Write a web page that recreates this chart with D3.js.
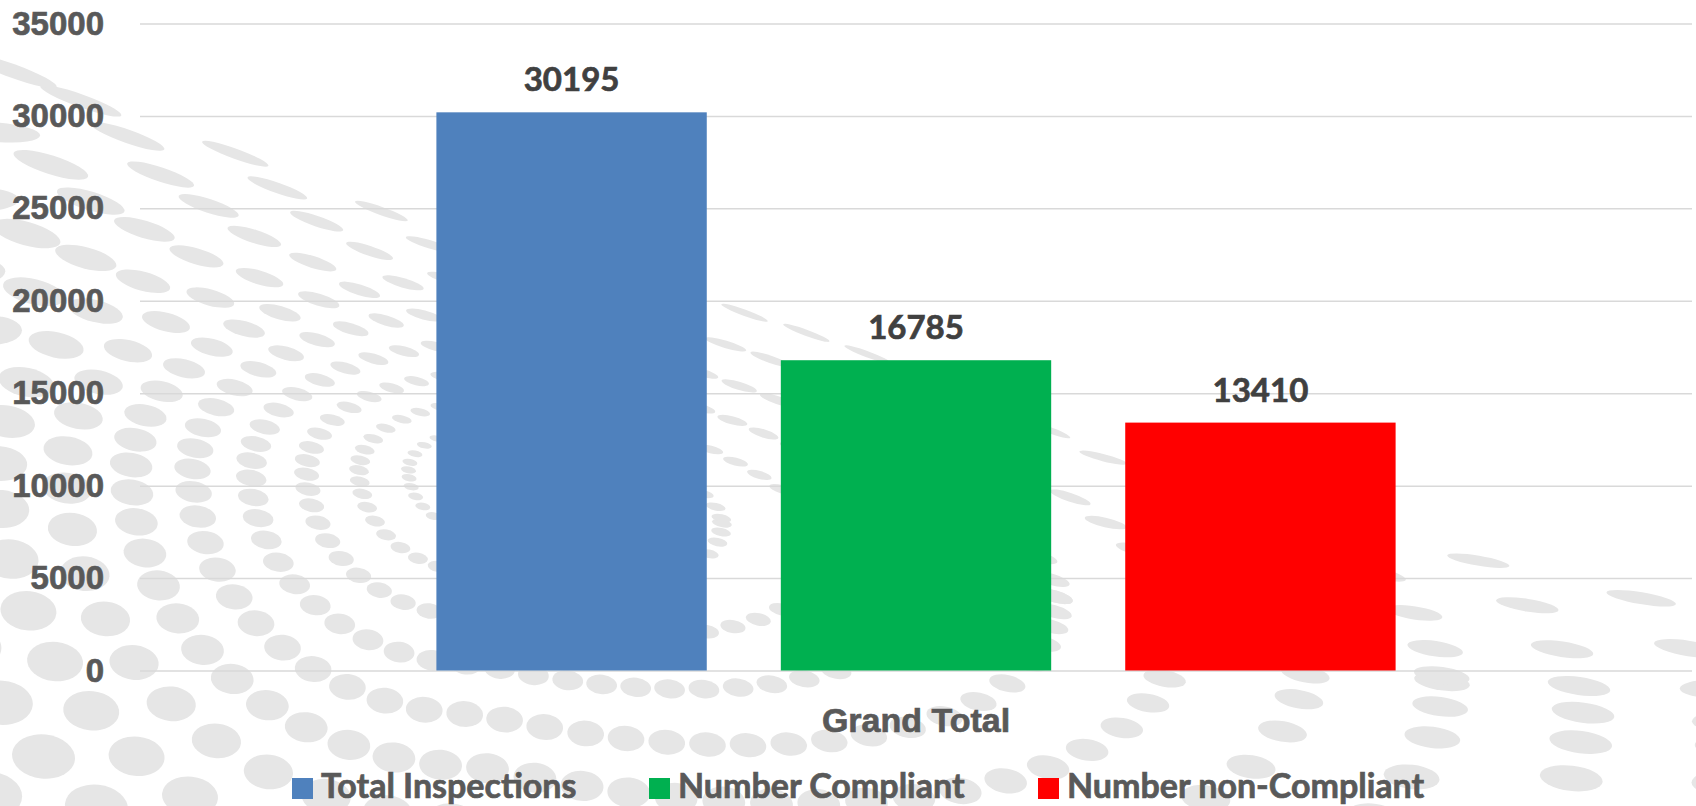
<!DOCTYPE html>
<html>
<head>
  <meta charset="UTF-8">
  <title>Inspections - Grand Total</title>
  <script src="https://d3js.org/d3.v7.min.js"></script>
  <style>
    body {
      margin: 0;
      background: #ffffff;
    }
    svg {
      display: block;
      font-family: Lato, "Open Sans", sans-serif;
      font-weight: 700;
    }
    svg text {
      stroke-width: 0.7px;
      paint-order: stroke;
    }
    .dots ellipse {
      fill: #e6e6e6;
    }
    .y-axis .domain { display: none; }
    .y-axis line {
      stroke: #d9d9d9;
      stroke-width: 1.5px;
    }
    .y-axis text {
      fill: #595959;
      stroke: #595959;
      font-size: 33px;
    }
    .x-axis .domain { display: none; }
    .x-axis text {
      fill: #595959;
      stroke: #595959;
      font-size: 34px;
    }
    .value-label {
      fill: #404040;
      stroke: #404040;
      font-size: 33px;
      text-anchor: middle;
    }
    .legend text {
      fill: #595959;
      stroke: #595959;
      font-size: 34px;
    }
  </style>
</head>
<body>
  <div id="chart"></div>

  <script>
    // data
    const categories = ["Grand Total"];
    const seriesNames = ["Total Inspections", "Number Compliant", "Number non-Compliant"];
    const seriesValues = [30195, 16785, 13410];
    const seriesColors = ["#4f81bd", "#00b050", "#ff0000"];
    const yTicks = [0, 5000, 10000, 15000, 20000, 25000, 30000, 35000];

    const W = 1696, H = 806;
    const plot = {left: 140, right: 1692, top: 23.5, bottom: 670.5};

    const svg = d3.select("#chart").append("svg")
        .attr("width", W)
        .attr("height", H);

    // background decoration: light grey dot swirl
    drawDots(svg.append("g").attr("class", "dots"));

    const y = d3.scaleLinear()
        .domain([0, 35000])
        .range([plot.bottom, plot.top]);

    const x0 = d3.scaleBand()
        .domain(categories)
        .range([plot.left, plot.right])
        .paddingInner(0)
        .paddingOuter(0.309);

    const x1 = d3.scaleBand()
        .domain(seriesNames)
        .range([0, x0.bandwidth()])
        .paddingInner(0.215)
        .paddingOuter(0);

    // gridlines + tick labels
    svg.append("g")
        .attr("class", "y-axis")
        .attr("transform", `translate(${plot.left},0)`)
        .call(d3.axisLeft(y)
          .tickValues(yTicks)
          .tickFormat(d3.format("d"))
          .tickSizeInner(-(plot.right - plot.left))
          .tickSizeOuter(0)
          .tickPadding(36));

    svg.select(".y-axis").selectAll("text").attr("x", -36);

    svg.append("g")
        .attr("class", "x-axis")
        .attr("transform", `translate(0,${plot.bottom})`)
        .call(d3.axisBottom(x0).tickSize(0).tickPadding(37));

    // bars
    const group = svg.append("g")
        .selectAll("g")
        .data(categories)
        .join("g")
        .attr("transform", d => `translate(${x0(d)},0)`);

    group.selectAll("rect")
        .data(() => seriesNames.map((s, i) => ({name: s, value: seriesValues[i], color: seriesColors[i]})))
        .join("rect")
        .attr("x", d => x1(d.name))
        .attr("y", d => y(d.value))
        .attr("width", x1.bandwidth())
        .attr("height", d => y(0) - y(d.value))
        .attr("fill", d => d.color);

    group.selectAll("text.value-label")
        .data(() => seriesNames.map((s, i) => ({name: s, value: seriesValues[i]})))
        .join("text")
        .attr("class", "value-label")
        .attr("x", d => x1(d.name) + x1.bandwidth() / 2)
        .attr("y", d => y(d.value) - 21)
        .text(d => d.value);

    // legend (item starts as in the original layout)
    const legendX = [292, 649, 1038];
    const legend = svg.append("g").attr("class", "legend");
    seriesNames.forEach((s, i) => {
      legend.append("rect")
          .attr("x", legendX[i])
          .attr("y", 778)
          .attr("width", 21)
          .attr("height", 21)
          .attr("fill", seriesColors[i]);
      legend.append("text")
          .attr("x", legendX[i] + 29)
          .attr("y", 798)
          .text(s);
    });

    function drawDots(g) {
      const cx = 480, cy = 470;
      // upper limit of the pattern
      const edge = d3.scaleLinear()
          .domain([0, 280, 400, 740, 1080, 1395, 1696])
          .range([45, 150, 195, 303, 430, 513, 567])
          .clamp(true);

      function mapPt(R, t) {
        let dx = R * Math.cos(t), dy = R * Math.sin(t);
        dy *= dy < 0 ? 0.55 : 0.85;
        if (dx > 0) { dx *= 2.0; dy += 0.22 * dx; }
        return [cx + dx, cy + dy];
      }

      const dots = [];
      for (let k = 0; k < 17; k++) {
        const R = 25 + 45 * k + 1.5 * k * k;
        const a = 4 + 0.05 * R;
        const gapF = k < 7 ? 2.2 : 2.6;
        let acc = 1e9, prev = mapPt(R, 0);
        for (let t = 0; t < Math.PI * 2; t += 0.002) {
          const p = mapPt(R, t);
          acc += Math.hypot(p[0] - prev[0], p[1] - prev[1]);
          const ex = edge(p[0]);
          const depth = p[1] - ex;
          const slope = (edge(p[0] + 5) - edge(p[0] - 5)) / 10;
          const b = a * Math.max(0.12, Math.min(0.7, 0.12 + depth * 0.0012));
          const rot = Math.atan(slope) * 180 / Math.PI * (1 - 0.7 * Math.min(depth / 500, 1));
          // extent of the ellipse along the ring direction
          const dir = Math.atan2(p[1] - prev[1], p[0] - prev[0]) - rot * Math.PI / 180;
          const ext = Math.hypot(a * Math.cos(dir), b * Math.sin(dir));
          if (acc >= ext * gapF) {
            acc = 0;
            if (depth > b && p[0] > -60 && p[0] < W + 60 && p[1] < H + 60) {
              dots.push({x: p[0], y: p[1], a: a, b: b, rot: rot});
            }
          }
          prev = p;
        }
      }

      g.selectAll("ellipse")
        .data(dots)
        .join("ellipse")
        .attr("transform", d => `translate(${d.x},${d.y}) rotate(${d.rot})`)
        .attr("rx", d => d.a)
        .attr("ry", d => d.b);
    }
  </script>
</body>
</html>
